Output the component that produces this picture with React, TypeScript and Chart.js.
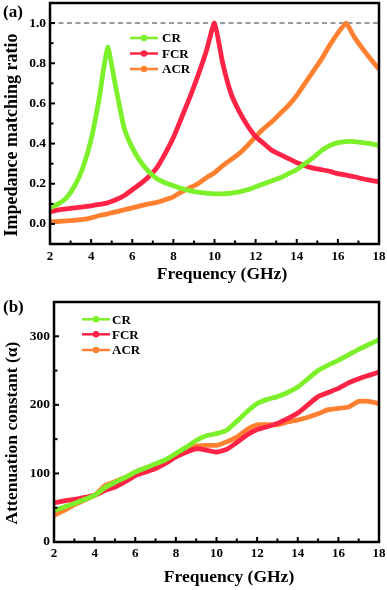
import React, { useEffect, useRef } from 'react';
import { Chart, registerables } from 'chart.js';

Chart.register(...registerables);

const FONT = '"Liberation Serif", "Times New Roman", serif';

// ---------- Panel (a): impedance matching ratio ----------
const FREQ_A = [2.0, 2.4, 2.8, 3.2, 3.6, 4.0, 4.4, 4.8, 5.2, 5.6, 6.0, 6.4, 6.8, 7.2, 7.6, 8.0, 8.4, 8.8, 9.2, 9.6, 10.0, 10.4, 10.8, 11.2, 11.6, 12.0, 12.4, 12.8, 13.2, 13.6, 14.0, 14.4, 14.8, 15.2, 15.6, 16.0, 16.4, 16.8, 17.2, 17.6, 18.0];
const CR_A = [0.08, 0.10, 0.13, 0.19, 0.28, 0.42, 0.63, 0.88, 0.68, 0.48, 0.38, 0.31, 0.26, 0.225, 0.205, 0.19, 0.176, 0.166, 0.158, 0.153, 0.150, 0.150, 0.153, 0.160, 0.170, 0.185, 0.20, 0.215, 0.23, 0.25, 0.27, 0.30, 0.33, 0.365, 0.39, 0.405, 0.41, 0.41, 0.405, 0.40, 0.39];
const FCR_A = [0.06, 0.07, 0.075, 0.08, 0.085, 0.09, 0.097, 0.105, 0.12, 0.14, 0.17, 0.20, 0.235, 0.28, 0.35, 0.43, 0.53, 0.63, 0.74, 0.86, 1.0, 0.80, 0.65, 0.56, 0.49, 0.435, 0.40, 0.365, 0.345, 0.325, 0.305, 0.29, 0.278, 0.27, 0.262, 0.25, 0.243, 0.235, 0.225, 0.217, 0.21];
const ACR_A = [0.01, 0.012, 0.015, 0.018, 0.022, 0.03, 0.042, 0.05, 0.06, 0.07, 0.08, 0.09, 0.10, 0.107, 0.12, 0.135, 0.16, 0.18, 0.20, 0.23, 0.255, 0.29, 0.32, 0.35, 0.39, 0.435, 0.475, 0.51, 0.55, 0.59, 0.64, 0.70, 0.76, 0.82, 0.89, 0.95, 1.0, 0.93, 0.873, 0.82, 0.77];

// ---------- Panel (b): attenuation constant ----------
const FREQ_B = [2.0, 2.5, 3.0, 3.5, 4.0, 4.5, 5.0, 5.5, 6.0, 6.5, 7.0, 7.5, 8.0, 8.5, 9.0, 9.5, 10.0, 10.5, 11.0, 11.5, 12.0, 12.5, 13.0, 13.5, 14.0, 14.5, 15.0, 15.5, 16.0, 16.5, 17.0, 17.5, 18.0];
const CR_B = [46, 51, 56, 62, 68, 79, 87, 94, 102, 108, 114, 120, 129, 138, 148, 155, 158, 163, 176, 190, 202, 208, 212, 218, 226, 238, 250, 258, 265, 273, 281, 288, 295];
const FCR_B = [57, 60, 62, 65, 68, 75, 80, 88, 97, 102, 107, 115, 124, 131, 136, 134, 131, 135, 145, 156, 164, 168, 173, 180, 188, 200, 212, 218, 224, 232, 238, 243, 248];
const ACR_B = [39, 46, 54, 61, 68, 82, 88, 94, 102, 108, 113, 119, 125, 133, 140, 141, 141, 146, 153, 164, 171, 171, 171, 175, 178, 182, 187, 193, 195, 197, 205, 205, 202];

const SERIES_NAMES = ['CR', 'FCR', 'ACR'];
const COLORS = ['#7cf02a', '#ff2445', '#ff8030'];

const X_LABEL = 'Frequency (GHz)';
const Y_LABEL_A = 'Impedance matching ratio';
const Y_LABEL_B = 'Attenuation constant (α)';

type DecorOpts = {
  label: string;
  labelY: number;
  legendX1: number;
  legendX2: number;
  legendTextX: number;
  legendYs: number[];
  dashedAt?: number;
  xTitle: string;
  xTitleX: number;
  xTitleY: number;
  xTitleSize: number;
  yTitle: string;
  yTitleX: number;
  yTitleY: number;
  yTitleSize: number;
};

function decorPlugin(o: DecorOpts) {
  return {
    id: 'decor',
    beforeDatasetsDraw(chart: any) {
      if (o.dashedAt === undefined) return;
      const { ctx, chartArea: a } = chart;
      const y = chart.scales.y.getPixelForValue(o.dashedAt);
      ctx.save();
      ctx.strokeStyle = '#6f7c86';
      ctx.lineWidth = 1.5;
      ctx.setLineDash([5, 3.5]);
      ctx.beginPath();
      ctx.moveTo(a.left, y);
      ctx.lineTo(a.right, y);
      ctx.stroke();
      ctx.restore();
    },
    afterDraw(chart: any) {
      const { ctx, chartArea: a } = chart;
      ctx.save();
      ctx.setLineDash([]);
      ctx.strokeStyle = '#000';
      ctx.lineWidth = 2.5;
      ctx.strokeRect(a.left, a.top, a.right - a.left, a.bottom - a.top);
      // inward ticks
      ctx.lineWidth = 2;
      const ys = chart.scales.y;
      ys.ticks.forEach((t: any) => {
        const p = ys.getPixelForValue(t.value);
        if (p <= a.top + 2 || p >= a.bottom - 2) return;
        const len = t.label ? 5 : 3.5;
        ctx.beginPath();
        ctx.moveTo(a.left, p);
        ctx.lineTo(a.left + len, p);
        ctx.stroke();
      });
      const xs = chart.scales.x;
      xs.ticks.forEach((t: any) => {
        const p = xs.getPixelForValue(t.value);
        if (p <= a.left + 2 || p >= a.right - 2) return;
        const len = t.label ? 5 : 3.5;
        ctx.beginPath();
        ctx.moveTo(p, a.bottom);
        ctx.lineTo(p, a.bottom - len);
        ctx.stroke();
      });
      // legend
      ctx.font = `bold 13px ${FONT}`;
      ctx.textBaseline = 'middle';
      ctx.textAlign = 'left';
      o.legendYs.forEach((y, i) => {
        ctx.strokeStyle = COLORS[i];
        ctx.lineWidth = 2.5;
        ctx.beginPath();
        ctx.moveTo(o.legendX1, y);
        ctx.lineTo(o.legendX2, y);
        ctx.stroke();
        ctx.beginPath();
        ctx.arc((o.legendX1 + o.legendX2) / 2, y, 3.2, 0, Math.PI * 2);
        ctx.fillStyle = COLORS[i];
        ctx.fill();
        ctx.fillStyle = '#000';
        ctx.fillText(SERIES_NAMES[i], o.legendTextX, y + 1);
      });
      // axis titles
      ctx.fillStyle = '#000';
      ctx.font = `bold ${o.xTitleSize}px ${FONT}`;
      ctx.textAlign = 'center';
      ctx.textBaseline = 'alphabetic';
      ctx.fillText(o.xTitle, o.xTitleX, o.xTitleY);
      ctx.save();
      ctx.translate(o.yTitleX, o.yTitleY);
      ctx.rotate(-Math.PI / 2);
      ctx.font = `bold ${o.yTitleSize}px ${FONT}`;
      ctx.textAlign = 'center';
      ctx.textBaseline = 'middle';
      ctx.fillText(o.yTitle, 0, 0);
      ctx.restore();
      // panel label
      ctx.font = `bold 17px ${FONT}`;
      ctx.textAlign = 'left';
      ctx.textBaseline = 'alphabetic';
      ctx.fillText(o.label, 3, o.labelY);
      ctx.restore();
    },
  };
}

function datasets(freq: number[], series: number[][]) {
  return series.map((vals, i) => ({
    label: SERIES_NAMES[i],
    data: freq.map((f, k) => ({ x: f, y: vals[k] })),
    borderColor: COLORS[i],
    backgroundColor: COLORS[i],
    borderWidth: 4.8,
    pointRadius: 0,
    tension: 0.15,
    fill: false,
  }));
}

const tickFont = (size: number) => ({ family: FONT, size, weight: 'bold' as const });

function buildA(): any {
  return {
    type: 'line',
    data: { datasets: datasets(FREQ_A, [CR_A, FCR_A, ACR_A]) },
    options: {
      responsive: false,
      animation: false,
      events: [],
      layout: { padding: { top: 3, right: 8, left: 0, bottom: 0 } },
      plugins: { legend: { display: false }, tooltip: { enabled: false } },
      scales: {
        x: {
          type: 'linear', min: 2, max: 18,
          afterFit: (s: any) => { s.height = 51; s.paddingLeft = 0; s.paddingRight = 0; },
          grid: { display: false, drawTicks: false },
          border: { display: false },
          ticks: {
            stepSize: 1, autoSkip: false, maxRotation: 0, padding: 4.5, color: '#000', font: tickFont(13),
            callback: (v: any) => (Math.round(v) % 2 === 0 ? String(Math.round(v)) : ''),
          },
          title: { display: false },
        },
        y: {
          type: 'linear', min: -0.1, max: 1.1,
          afterFit: (s: any) => { s.width = 50; s.paddingTop = 0; s.paddingBottom = 0; },
          grid: { display: false, drawTicks: false },
          border: { display: false },
          ticks: {
            stepSize: 0.1, maxTicksLimit: 100, autoSkip: false, padding: 4, color: '#000', font: tickFont(13.5),
            callback: (v: any) => {
              const k = Math.round(v * 10);
              return k >= 0 && k <= 10 && k % 2 === 0 ? (k / 10).toFixed(1) : '';
            },
          },
          title: { display: false },
        },
      },
    },
    plugins: [decorPlugin({
      label: '(a)', labelY: 17, legendX1: 130, legendX2: 158, legendTextX: 162, legendYs: [38, 53.5, 69], dashedAt: 1.0,
      xTitle: X_LABEL, xTitleX: 222, xTitleY: 279, xTitleSize: 17.5,
      yTitle: Y_LABEL_A, yTitleX: 12, yTitleY: 135, yTitleSize: 18,
    })],
  };
}

function buildB(): any {
  return {
    type: 'line',
    data: { datasets: datasets(FREQ_B, [CR_B, FCR_B, ACR_B]) },
    options: {
      responsive: false,
      animation: false,
      events: [],
      layout: { padding: { top: 7, right: 8, left: 0, bottom: 0 } },
      plugins: { legend: { display: false }, tooltip: { enabled: false } },
      scales: {
        x: {
          type: 'linear', min: 2, max: 18,
          afterFit: (s: any) => { s.height = 48; s.paddingLeft = 0; s.paddingRight = 0; },
          grid: { display: false, drawTicks: false },
          border: { display: false },
          ticks: {
            stepSize: 1, autoSkip: false, maxRotation: 0, padding: 4.2, color: '#000', font: tickFont(13),
            callback: (v: any) => (Math.round(v) % 2 === 0 ? String(Math.round(v)) : ''),
          },
          title: { display: false },
        },
        y: {
          type: 'linear', min: 0, max: 350,
          afterFit: (s: any) => { s.width = 54; s.paddingTop = 0; s.paddingBottom = 0; },
          grid: { display: false, drawTicks: false },
          border: { display: false },
          ticks: {
            stepSize: 50, maxTicksLimit: 100, autoSkip: false, padding: 4, color: '#000', font: tickFont(13.5),
            callback: (v: any) => (Math.round(v) % 100 === 0 ? String(Math.round(v)) : ''),
          },
          title: { display: false },
        },
      },
    },
    plugins: [decorPlugin({
      label: '(b)', labelY: 16.5, legendX1: 82, legendX2: 110, legendTextX: 112, legendYs: [24.3, 39.3, 55],
      xTitle: X_LABEL, xTitleX: 229, xTitleY: 286.5, xTitleSize: 17.5,
      yTitle: Y_LABEL_B, yTitleX: 12, yTitleY: 138, yTitleSize: 17.5,
    })],
  };
}

function Panel({ build, top }: { build: () => any; top: number }) {
  const ref = useRef<HTMLCanvasElement>(null);
  useEffect(() => {
    const chart = new Chart(ref.current as HTMLCanvasElement, build());
    return () => chart.destroy();
  }, [build]);
  return (
    <canvas
      ref={ref}
      width={387}
      height={295}
      style={{ position: 'absolute', left: 0, top, width: 387, height: 295, display: 'block' }}
    />
  );
}

export default function App() {
  return (
    <div style={{ position: 'absolute', left: 0, top: 0, width: 387, height: 590, background: '#fff' }}>
      <Panel build={buildA} top={0} />
      <Panel build={buildB} top={295} />
    </div>
  );
}
